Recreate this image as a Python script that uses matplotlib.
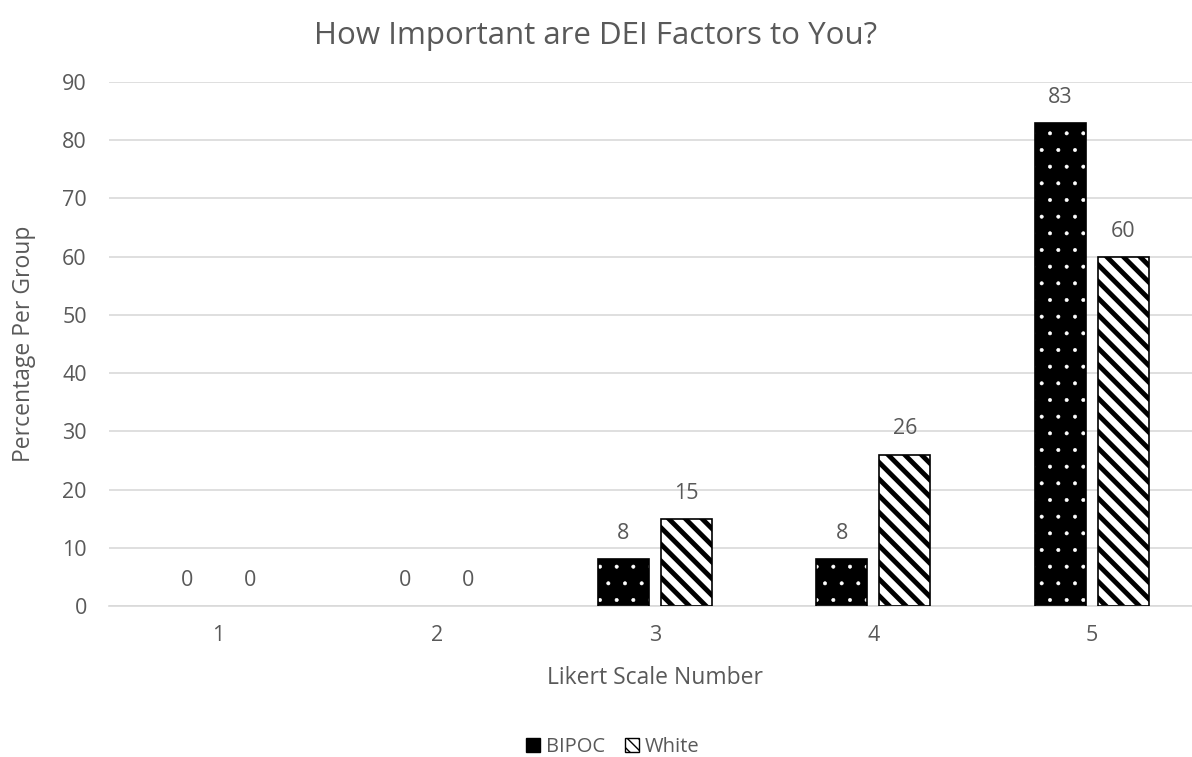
import numpy as np
import matplotlib.pyplot as plt
from matplotlib.patches import Patch

plt.rcParams['font.family'] = ['Open Sans', 'DejaVu Sans']

# Data
categories = ['1', '2', '3', '4', '5']
bipoc = [0, 0, 8, 8, 83]
white = [0, 0, 15, 26, 60]

txt = '#595959'
fig = plt.figure(figsize=(11.92, 7.57), dpi=100)
# axis runs slightly past the right edge of the picture, as in the original
ax = fig.add_axes([0.0915, 0.1995, 0.916, 0.6922])

x = np.arange(len(categories))
w = 0.234
off = 0.144

# BIPOC: black with white dots
with plt.rc_context({'hatch.linewidth': 0.4}):
    ax.bar(x - off, bipoc, w, color='black', linewidth=0, zorder=2)
    ax.bar(x - off, bipoc, w, facecolor='none', edgecolor='white', hatch='.',
           linewidth=0, zorder=3)
ax.bar(x - off, bipoc, w, facecolor='none',
       edgecolor=['none' if v == 0 else 'black' for v in bipoc],
       linewidth=1.2, zorder=4)

# White: white with thick black back-diagonal stripes
with plt.rc_context({'hatch.linewidth': 3.5}):
    ax.bar(x + off, white, w, facecolor='white', edgecolor='black', hatch='\\\\',
           linewidth=0, zorder=2)
ax.bar(x + off, white, w, facecolor='none',
       edgecolor=['none' if v == 0 else 'black' for v in white],
       linewidth=1.2, zorder=4)

# value labels
for xi, v in zip(x - off, bipoc):
    ax.text(xi, v + 4.4, str(v), ha='center', va='center', fontsize=15.5, color=txt)
for xi, v in zip(x + off, white):
    ax.text(xi, v + 4.4, str(v), ha='center', va='center', fontsize=15.5, color=txt)

ax.set_xlim(-0.5, 4.5)
ax.set_ylim(0, 90)
ax.set_yticks(np.arange(0, 91, 10))
ax.set_xticks(x)
ax.set_xticklabels(categories)
ax.tick_params(length=0, labelsize=15.5, labelcolor=txt)
ax.tick_params(axis='x', pad=14)
ax.tick_params(axis='y', pad=16)
ax.yaxis.grid(True, color='#d9d9d9', linewidth=1.2)
ax.set_axisbelow(True)
for s in ['top', 'right', 'left']:
    ax.spines[s].set_visible(False)
ax.spines['bottom'].set_color('#d9d9d9')
ax.spines['bottom'].set_linewidth(1.2)

ax.set_xlabel('Likert Scale Number', fontsize=16.5, color=txt, labelpad=14)
ax.set_ylabel('Percentage Per Group', fontsize=16.5, color=txt, labelpad=19)
fig.text(0.5, 0.952, 'How Important are DEI Factors to You?', fontsize=22.5,
         color=txt, ha='center', va='center')

# legend with hatched proxies
h1 = Patch(facecolor='black', edgecolor='black', label='BIPOC')
with plt.rc_context({'hatch.linewidth': 2.5}):
    h2 = Patch(facecolor='white', edgecolor='black', hatch='\\\\\\', label='White')
fig.legend(handles=[h1, h2], loc='center', bbox_to_anchor=(0.514, 0.013),
           ncol=2, frameon=False, fontsize=14.5, labelcolor=txt,
           handlelength=0.7, handleheight=0.7, handletextpad=0.3, columnspacing=1.0)

fig.savefig('out.png', dpi=100)
